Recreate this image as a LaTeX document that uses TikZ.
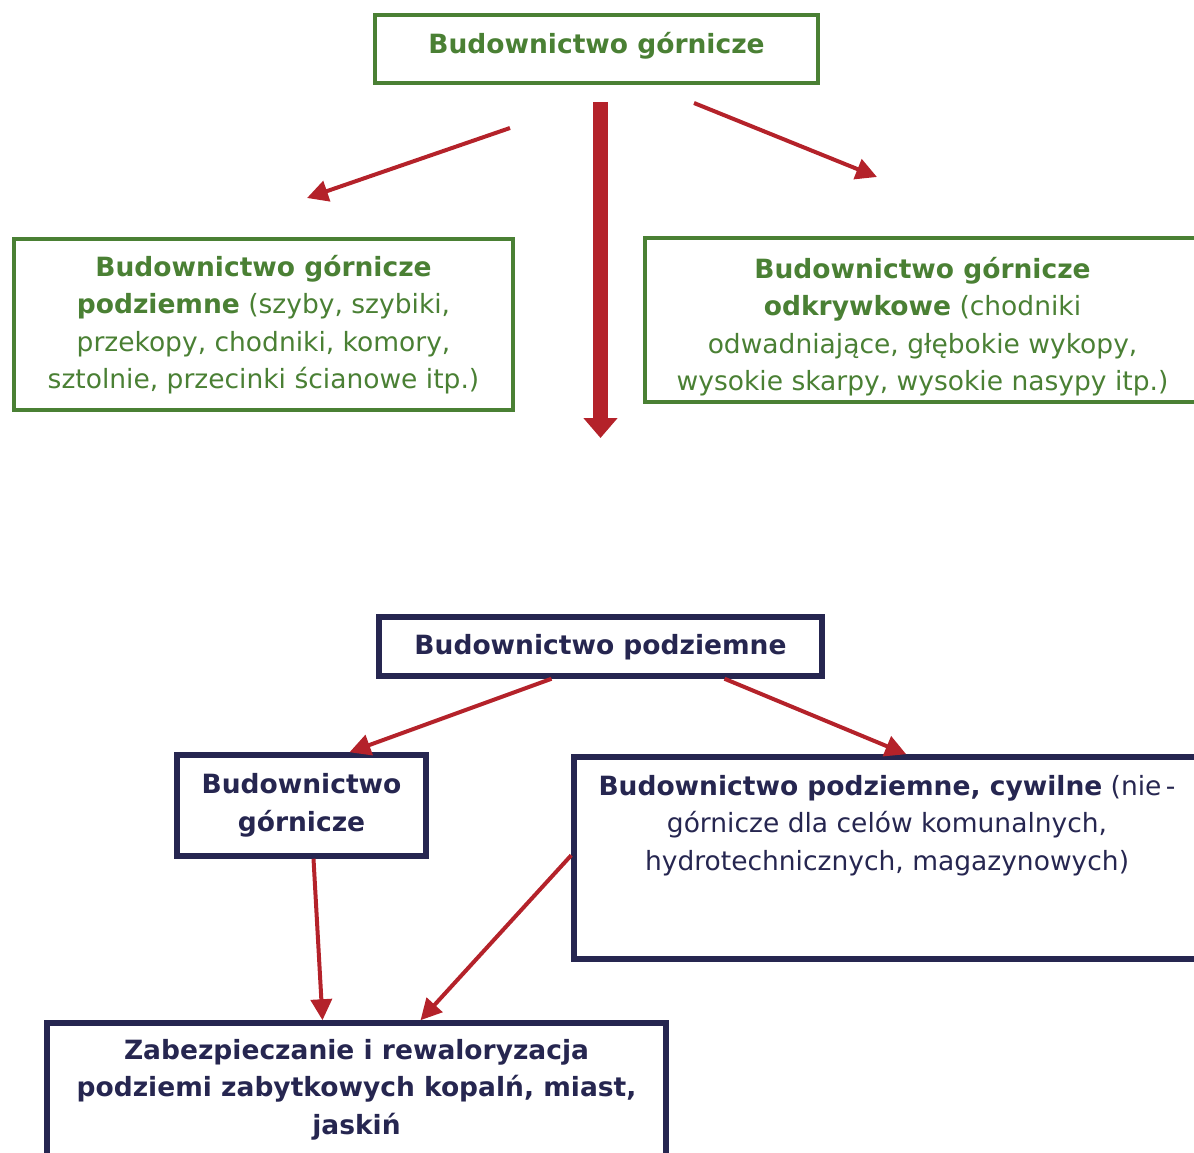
\documentclass[tikz,border=0pt]{standalone}
\usepackage{fontspec}
\setmainfont{DejaVu Sans}
\usetikzlibrary{arrows.meta,calc}
\definecolor{zielony}{RGB}{74,128,52}
\definecolor{granat}{RGB}{38,38,80}
\definecolor{czerwony}{RGB}{180,34,42}
\tikzset{
  tekst/.style={font=\fontsize{26.5pt}{37.5pt}\selectfont, align=center, inner sep=0pt},
  zbox/.style={tekst, draw=zielony, text=zielony, line width=4.5pt},
  gbox/.style={tekst, draw=granat, text=granat, line width=5.5pt},
  strzalka/.style={draw=czerwony, line width=4pt, -{Triangle[length=21pt,width=21pt]}},
  gruba/.style={draw=czerwony, line width=15pt, -{Triangle[length=20pt,width=33pt]}}
}
\begin{document}
\begin{tikzpicture}[x=1pt,y=-1pt]
\useasboundingbox (0,0) rectangle (1194,1153);
\clip (0,0) rectangle (1194,1153);

\node[zbox, minimum width=443pt, minimum height=68pt, text depth=12pt] (gorn) at (596.5,49) {\textbf{Budownictwo górnicze}};
\node[zbox, minimum width=499pt, minimum height=171pt] (podz) at (263.5,324.5)
  {\textbf{Budownictwo górnicze}\\ \textbf{podziemne} (szyby, szybiki,\\ przekopy, chodniki, komory,\\ sztolnie, przecinki ścianowe itp.)};
\node[zbox] (odkr) at (922.5,320)
  {\parbox[c][164pt][t]{555pt}{\centering\vspace*{19pt}%
   \textbf{Budownictwo górnicze}\\ \textbf{odkrywkowe} (chodniki\\ odwadniające, głębokie wykopy,\\ wysokie skarpy, wysokie nasypy itp.)}};

\coordinate (l0) at (510,128);
\coordinate (l1) at (307,198);
\coordinate (p0) at (694,103);
\coordinate (p1) at (877,177);
\coordinate (s0) at (600.5,102);
\coordinate (s1) at (600.5,438);
\draw[strzalka] (l0) -- (l1);
\draw[strzalka] (p0) -- (p1);
\draw[gruba] (s0) -- (s1);

\node[gbox, minimum width=443pt, minimum height=59pt, text depth=5pt] (budp) at (600.5,646.5) {\textbf{Budownictwo podziemne}};
\node[gbox, minimum width=249pt, minimum height=101pt] (budg) at (301.5,805.5) {\textbf{Budownictwo}\\ \textbf{górnicze}};
\node[gbox] (cywil) at (887,858)
  {\parbox[c][202pt][t]{626pt}{\centering\vspace*{18pt}%
   \textbf{Budownictwo podziemne, cywilne} (nie\,-\\ górnicze dla celów komunalnych,\\ hydrotechnicznych, magazynowych)}};
\node[gbox] (zabyt) at (356.5,1101.5)
  {\parbox[c][157pt][t]{619pt}{\centering\vspace*{16pt}%
   \textbf{Zabezpieczanie i rewaloryzacja}\\ \textbf{podziemi zabytkowych kopalń, miast,}\\ \textbf{jaskiń}}};

\draw[strzalka] ([xshift=-49pt]budp.south) -- ([xshift=48pt]budg.north);
\draw[strzalka] ([xshift=124pt]budp.south) -- ([xshift=335pt]cywil.north west);
\draw[strzalka] ([xshift=12pt]budg.south) -- ([xshift=-34pt]zabyt.north);
\draw[strzalka] ([yshift=-101pt]cywil.north west) -- ([xshift=64pt]zabyt.north);
\end{tikzpicture}
\end{document}
